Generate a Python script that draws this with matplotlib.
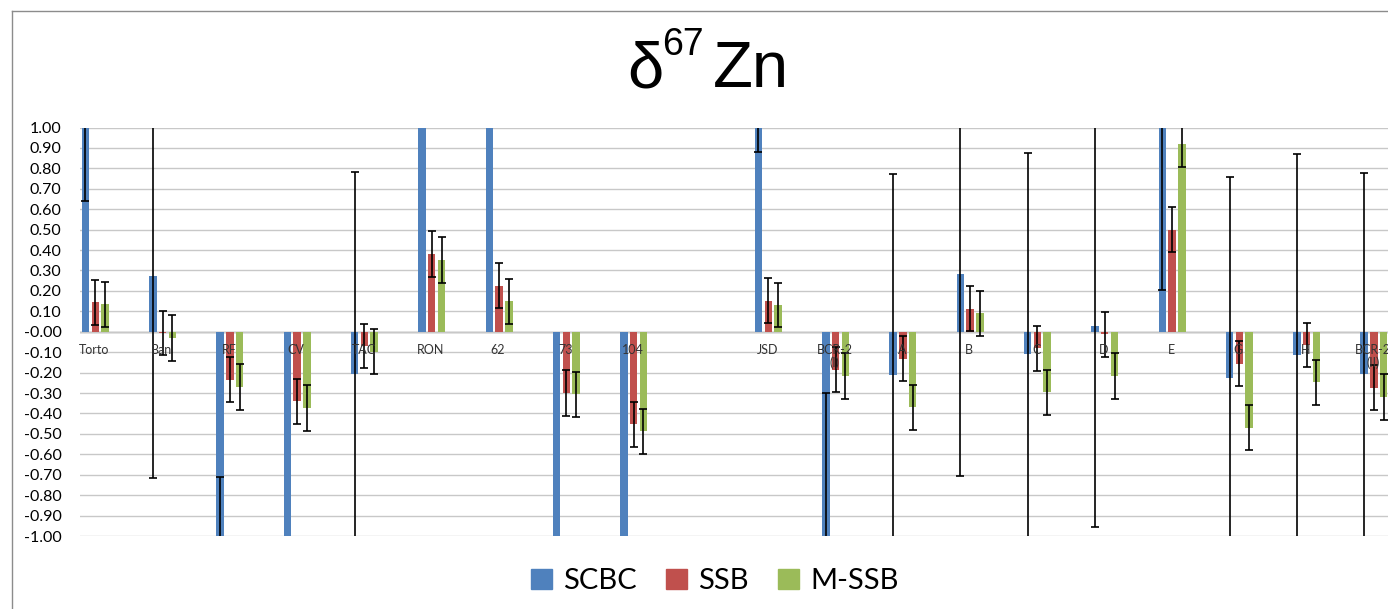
import numpy as np
import matplotlib.pyplot as plt
from matplotlib.patches import Patch
from matplotlib.lines import Line2D

# ----------- dados -----------

categorias = ['Torto', 'Ban', 'RF', 'CV', 'TAC', 'RON', '62', '73', '104', '',
              'JSD', 'BCR-2\n(I)', 'A', 'B', 'C', 'D', 'E', 'G', 'H', 'BCR-2\n(II)']

scbc = [1.25, 0.275, -1.30, -2.50, -0.205, 1.80, 1.90, -2.00, -2.00, np.nan,
        1.30, -1.30, -0.213, 0.283, -0.108, 0.030, 1.20, -0.228, -0.115, -0.208]
scbc_err = [0.61, 0.99, 0.59, 0.80, 0.985, 0.50, 0.50, 0.50, 0.50, np.nan,
            0.42, 1.00, 0.987, 0.99, 0.985, 0.985, 0.995, 0.986, 0.987, 0.985]

ssb = [0.145, -0.008, -0.235, -0.340, -0.070, 0.380, 0.225, -0.300, -0.452, np.nan,
       0.152, -0.185, -0.132, 0.112, -0.080, -0.012, 0.500, -0.156, -0.065, -0.275]
ssb_err = [0.11, 0.108, 0.11, 0.11, 0.108, 0.112, 0.111, 0.112, 0.11, np.nan,
           0.109, 0.11, 0.111, 0.11, 0.11, 0.11, 0.11, 0.11, 0.11, 0.11]

mssb = [0.135, -0.030, -0.270, -0.375, -0.097, 0.350, 0.150, -0.307, -0.487, np.nan,
        0.131, -0.215, -0.370, 0.090, -0.297, -0.218, 0.918, -0.471, -0.248, -0.320]
mssb_err = [0.11, 0.112, 0.112, 0.112, 0.109, 0.112, 0.11, 0.11, 0.11, np.nan,
            0.11, 0.112, 0.11, 0.11, 0.11, 0.112, 0.111, 0.11, 0.11, 0.111]

series = [('SCBC', scbc, scbc_err, '#4F81BD'),
          ('SSB', ssb, ssb_err, '#C0504D'),
          ('M-SSB', mssb, mssb_err, '#9BBB59')]

# ----------- figura -----------

W, H = 1388, 609
fig = plt.figure(figsize=(W / 100, H / 100), dpi=100)
plt.rcParams['font.family'] = ['Lato', 'DejaVu Sans']

# borda externa do gráfico (estilo Excel)
fig.add_artist(Line2D([12 / W, 12 / W], [0, 1 - 11 / H], transform=fig.transFigure,
                      color='#8c8c8c', lw=1))
fig.add_artist(Line2D([12 / W, 1], [1 - 11 / H, 1 - 11 / H], transform=fig.transFigure,
                      color='#8c8c8c', lw=1))

left, right = 79.5, 79.5 + 20 * 67.3
top, bottom = 127.5, 536
ax = fig.add_axes([left / W, 1 - bottom / H, (right - left) / W, (bottom - top) / H])

x = np.arange(len(categorias))
largura = 0.111
offsets = [0.089, 0.234, 0.379]

for (nome, vals, errs, cor), off in zip(series, offsets):
    ax.bar(x + off, vals, width=largura, color=cor, label=nome, zorder=2)
    ax.errorbar(x + off, vals, yerr=errs, fmt='none', ecolor='black',
                elinewidth=1.2, capsize=3, capthick=1.2, zorder=3)

ax.set_xlim(0, len(categorias))
ax.set_ylim(-1, 1)
ax.set_yticks(np.arange(-1, 1.01, 0.1))
ax.set_yticklabels([f'{v:.2f}' for v in np.arange(-1, 1.01, 0.1)])
ax.tick_params(axis='y', length=0, pad=13, labelsize=11.5)
ax.set_xticks([])
ax.grid(axis='y', color='#c8c8c8', lw=1, zorder=0)
ax.axhline(0, color='#8a8a8a', lw=1, zorder=1)
for s in ax.spines.values():
    s.set_visible(False)

# rótulos das categorias junto da linha do zero
for xi, cat in zip(x, categorias):
    ax.annotate(cat, xy=(xi + 0.22, 0), xytext=(0, -9), textcoords='offset points',
                ha='center', va='top', fontsize=9, color='#333333',
                linespacing=1.0, zorder=4)

# título δ67Zn
ty = 1 - 87 / H
fig.text(627 / W, ty, 'δ', fontsize=47, family='Liberation Sans', va='baseline')
fig.text(662 / W, 1 - 55 / H, '67', fontsize=27, family='Liberation Sans', va='baseline')
fig.text(713 / W, ty, 'Zn', fontsize=47, family='Liberation Sans', va='baseline')

# legenda
handles = [Patch(color=c, label=n) for n, _, _, c in series]
fig.legend(handles=handles, loc='center', bbox_to_anchor=(715 / W, 1 - 581 / H),
           ncol=3, frameon=False, fontsize=21, handlelength=0.7, handleheight=0.7,
           handletextpad=0.4, columnspacing=1.0)

plt.savefig('out.png', dpi=100)
